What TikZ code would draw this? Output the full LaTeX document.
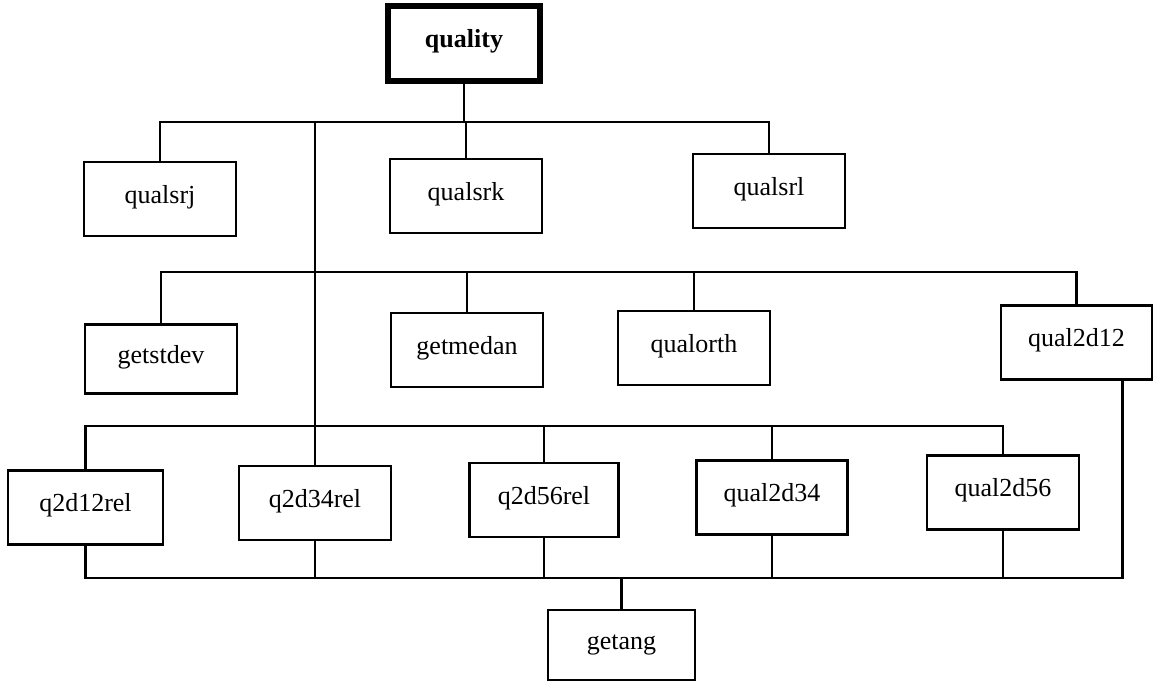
\documentclass[tikz,border=0pt]{standalone}
\usepackage{fontspec}
\setmainfont{Liberation Serif}
\begin{document}
\begin{tikzpicture}[x=1pt, y=-1pt,
  box/.style={draw, line width=2.6pt, minimum width=152pt, minimum height=74pt,
    inner sep=0pt, text height=13pt, text depth=5pt,
    font=\fontsize{26}{30}\selectfont},
  rootbox/.style={box, line width=5.5pt, minimum height=75pt,
    font=\fontsize{26}{30}\selectfont\bfseries},
  wire/.style={line width=2.4pt, line cap=rect, line join=miter}]
\useasboundingbox (0,0) rectangle (1153,682);

% bus levels
\coordinate (b1) at (0,122);
\coordinate (b2) at (0,272);
\coordinate (b3) at (0,426);
\coordinate (b4) at (0,578);

% routines
\node[rootbox] (quality) at (464,43.5) {quality};

\node[box] (qualsrj) at (160,199) {qualsrj};
\node[box] (qualsrk) at (466,196) {qualsrk};
\node[box] (qualsrl) at (769,191) {qualsrl};

\node[box, minimum height=69pt] (getstdev) at (161,359) {getstdev};
\node[box] (getmedan) at (467,350) {getmedan};
\node[box] (qualorth) at (694,348) {qualorth};
\node[box, minimum width=151pt] (qual2d12) at (1076.5,342.5) {qual2d12};

\node[box, minimum width=155pt] (q2d12rel) at (85.5,507.5) {q2d12rel};
\node[box] (q2d34rel) at (315,503) {q2d34rel};
\node[box, minimum width=149pt] (q2d56rel) at (544,500) {q2d56rel};
\node[box, minimum width=151pt] (qual2d34) at (772,497.5) {qual2d34};
\node[box] (qual2d56) at (1003,492.5) {qual2d56};

\node[box, minimum width=147pt, minimum height=70pt] (getang) at (621.5,645) {getang};

% first level
\draw[wire] (quality.south) -- (quality.south |- b1);
\draw[wire] (qualsrj.north) |- (qualsrl.north |- b1) -- (qualsrl.north);
\draw[wire] (qualsrk.north) -- (qualsrk.north |- b1);
\draw[wire] (q2d34rel.north |- b1) -- (q2d34rel.north);

% second level
\draw[wire] (getstdev.north) |- (qual2d12.north |- b2) -- (qual2d12.north);
\draw[wire] (getmedan.north) -- (getmedan.north |- b2);
\draw[wire] (qualorth.north) -- (qualorth.north |- b2);

% third level
\draw[wire] (q2d12rel.north) |- (qual2d56.north |- b3) -- (qual2d56.north);
\draw[wire] (q2d56rel.north) -- (q2d56rel.north |- b3);
\draw[wire] (qual2d34.north) -- (qual2d34.north |- b3);

% shared callee
\coordinate (q12out) at ([xshift=46pt]qual2d12.south);
\draw[wire] (q2d12rel.south) |- (q12out |- b4) -- (q12out);
\draw[wire] (q2d34rel.south) -- (q2d34rel.south |- b4);
\draw[wire] (q2d56rel.south) -- (q2d56rel.south |- b4);
\draw[wire] (qual2d34.south) -- (qual2d34.south |- b4);
\draw[wire] (qual2d56.south) -- (qual2d56.south |- b4);
\draw[wire] (getang.north) -- (getang.north |- b4);
\end{tikzpicture}
\end{document}
